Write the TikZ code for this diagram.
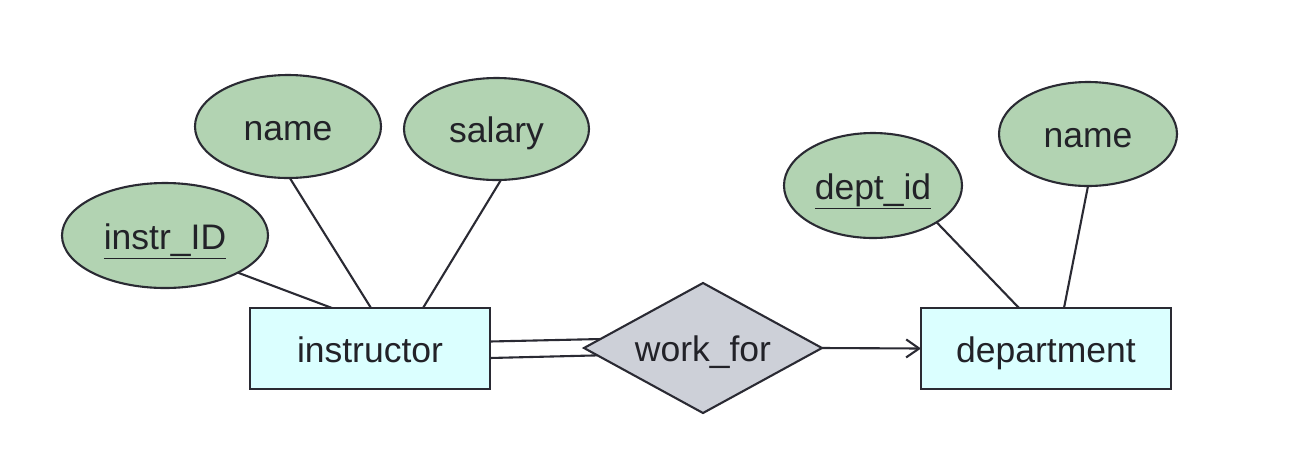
\documentclass[tikz,border=0pt]{standalone}
\usepackage{fontspec}
\setmainfont{Liberation Sans}
\usetikzlibrary{shapes.geometric,arrows.meta}
\definecolor{attrfill}{HTML}{B2D3B2}
\definecolor{entfill}{HTML}{DBFFFF}
\definecolor{relfill}{HTML}{CDD0D8}
\definecolor{edge}{HTML}{2A2A33}
\definecolor{txt}{HTML}{222228}
\tikzset{
  base/.style={draw=edge, line width=2.1pt, inner sep=0pt, outer sep=0pt, text=txt,
    font=\fontsize{35.5}{40}\selectfont, text height=27.7pt, text depth=0pt},
  attr/.style={base, ellipse, fill=attrfill},
  entity/.style={base, rectangle, fill=entfill},
  rel/.style={base, diamond, fill=relfill, aspect=1.83},
  conn/.style={draw=edge, line width=2.1pt},
}
\begin{document}
\begin{tikzpicture}[x=1pt,y=-1pt]
\useasboundingbox (0,0) rectangle (1300,448);
% entities
\node[entity, minimum width=240pt, minimum height=81pt] (instr) at (370,348.5) {instructor};
\node[entity, minimum width=250pt, minimum height=81pt] (dept) at (1046,348.5) {department};
\node[rel, minimum width=238pt, minimum height=130pt] (wf) at (703,348) {work\_for};
% attributes
\node[attr, minimum width=206pt, minimum height=105pt] (iid) at (165,235.5) {\underline{instr\_ID}};
\node[attr, minimum width=186pt, minimum height=103pt] (nameL) at (288,126.5) {name};
\node[attr, minimum width=185pt, minimum height=102pt] (sal) at (496.5,129) {salary};
\node[attr, minimum width=178pt, minimum height=105pt] (did) at (873,185.5) {\underline{dept\_id}};
\node[attr, minimum width=178pt, minimum height=104pt] (nameR) at (1088,134) {name};
% attachment points
\coordinate (a1) at (332,308);
\coordinate (a2) at (371,308);
\coordinate (a3) at (423,308);
\coordinate (a4) at (1019,308);
\coordinate (a5) at (1064,308);
\coordinate (r1) at (490,341.5);
\coordinate (r2) at (490,358);
% connectors
\draw[conn] (iid.-27) -- (a1);
\draw[conn] (nameL.-88) -- (a2);
\draw[conn] (sal.-85) -- (a3);
\draw[conn] (did.-30) -- (a4);
\draw[conn] (nameR.south) -- (a5);
\draw[conn] (r1) -- (wf.175.7);
\draw[conn] (r2) -- (wf.184.3);
\draw[conn, -{Straight Barb[length=13pt,width=18pt,line width=2.1pt]}] (wf.east) -- (dept.west);
\end{tikzpicture}
\end{document}
